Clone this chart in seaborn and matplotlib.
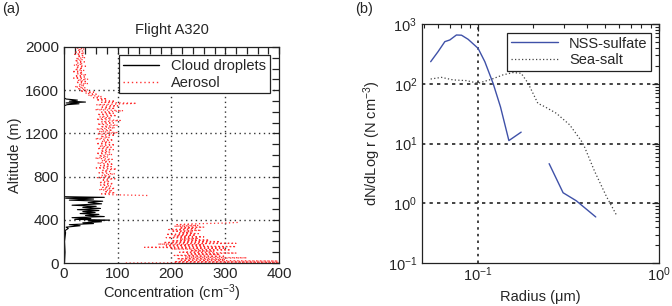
import numpy as np
import pandas as pd
import matplotlib
matplotlib.use("Agg")
import matplotlib.pyplot as plt
import seaborn as sns
from matplotlib.lines import Line2D
from matplotlib.ticker import MultipleLocator, LogLocator, NullFormatter

# ---------------- data: panel (a) ----------------
cloud_alt = [0, 100, 200, 280, 300, 320, 332, 345, 355, 365, 372, 382, 390, 397, 404,
             412, 420, 430, 440, 450, 458, 468, 476, 486, 494, 505, 515, 525, 535, 548,
             560, 572, 582, 592, 600, 608, 614, 700, 1000, 1300, 1455, 1466, 1474,
             1482, 1490, 1498, 1508, 1518, 1530, 1800, 2000]
cloud_conc = [1, 2, 1, 3, 2, 8, 4, 30, 10, 55, 35, 70, 45, 85, 20,
              50, 15, 75, 40, 65, 30, 58, 35, 65, 25, 68, 35, 60, 15, 70,
              45, 72, 10, 55, 3, 75, 0, 0, 0, 0, 0, 6, 28, 4, 40, 10, 25, 4, 0, 0, 0]

aer_low_alt = [0, 5, 12, 18, 25, 32, 40, 48, 55, 62, 70, 78, 85, 92, 100, 108, 115, 122,
               130, 138, 145, 152, 160, 168, 175, 182, 190, 198, 205, 212, 220, 228, 235,
               242, 250, 258, 265, 272, 280, 288, 295, 302, 310, 318, 325, 332, 340, 348,
               355, 362, 370, 376]
aer_low_conc = [115, 400, 205, 398, 215, 300, 210, 340, 225, 300, 205, 290, 230, 320, 215,
                280, 235, 310, 200, 300, 150, 320, 190, 260, 175, 320, 185, 290, 200, 270,
                215, 250, 190, 260, 205, 245, 190, 250, 215, 240, 200, 255, 195, 245, 215,
                260, 205, 250, 210, 235, 300, 325]

aer_mid_alt = [625, 632, 640, 650, 660, 670, 680, 690, 700, 712, 722, 735, 745, 757, 768,
               780, 790, 802, 812, 825, 835, 847, 858, 870, 880, 892, 902, 915, 925, 937,
               948, 960, 970, 982, 992, 1005, 1015, 1027, 1037, 1050, 1060, 1072, 1082,
               1095, 1105, 1117, 1127, 1140, 1150, 1162, 1172, 1185, 1195, 1207, 1217, 1230,
               1240, 1252, 1262, 1275, 1285, 1297, 1307, 1320, 1330, 1342, 1352, 1365, 1375,
               1387, 1397, 1410, 1420, 1432, 1442, 1455, 1465, 1478, 1488, 1498, 1510, 1520,
               1530, 1542, 1552, 1563, 1572, 1582, 1592, 1602, 1612, 1622, 1632, 1642, 1652,
               1662, 1672, 1682, 1692, 1702, 1712, 1722, 1732, 1742, 1752, 1762, 1772, 1782,
               1792, 1802, 1812, 1822, 1832, 1842, 1852, 1862, 1872, 1882, 1892, 1902, 1912,
               1922, 1932, 1942, 1952, 1962, 1972, 1982, 1992, 2000]
aer_mid_conc = [155, 90, 70, 95, 75, 90, 65, 95, 72, 88, 68, 92, 65, 85, 70,
                95, 62, 88, 70, 95, 65, 85, 72, 98, 60, 88, 68, 92, 62, 85,
                70, 90, 58, 82, 65, 90, 60, 85, 68, 92, 62, 88, 66,
                95, 60, 85, 70, 92, 58, 85, 68, 95, 62, 100, 65, 90,
                60, 95, 68, 100, 62, 92, 70, 105, 60, 88, 66, 98, 62,
                92, 70, 110, 58, 95, 68, 100, 60, 135, 70, 95, 60, 80,
                55, 70, 45, 60, 40, 55, 30, 45, 25, 40, 20, 38, 28,
                45, 22, 40, 25, 45, 18, 38, 20, 42, 25, 35, 15, 38,
                20, 35, 22, 40, 18, 35, 25, 38, 20, 35, 22, 40, 25,
                35, 20, 38, 22, 35, 25, 38, 20, 30]

# ---------------- data: panel (b) ----------------
nss_r1 = [0.0547, 0.0601, 0.0655, 0.0698, 0.0759, 0.081, 0.0881, 0.100, 0.109, 0.121,
          0.133, 0.148, 0.173]
nss_n1 = [234, 345, 507, 541, 655, 650, 555, 392, 234, 102, 41, 11.2, 15.5]
nss_r2 = [0.247, 0.295, 0.349, 0.447]
nss_n2 = [4.6, 1.5, 1.1, 0.59]

salt_r = [0.0547, 0.0627, 0.0728, 0.0863, 0.100, 0.1186, 0.1375, 0.156, 0.173, 0.189,
          0.214, 0.233, 0.271, 0.321, 0.380, 0.441, 0.512, 0.581]
salt_n = [120, 128, 116, 113, 102, 119, 141, 154, 150, 102, 47, 41.5, 32, 20.5, 10.1,
          3.4, 1.3, 0.64]

# ---------------- style ----------------
sns.set_style("white")
plt.rcParams["font.family"] = ["Liberation Sans", "DejaVu Sans"]
plt.rcParams["mathtext.default"] = "regular"
plt.rcParams["font.size"] = 10.5
plt.rcParams["axes.linewidth"] = 0.9
plt.rcParams["axes.edgecolor"] = "#222222"

fig = plt.figure(figsize=(6.72, 3.06), dpi=100)
axa = fig.add_axes([0.0952, 0.1405, 0.32, 0.706])
axb = fig.add_axes([0.628, 0.1405, 0.3527, 0.781])

RED = "#ff3030"
BLUE = "#3f51a8"
AER_LS = (0, (1, 2.0))

# panel (a)
cloud_df = pd.DataFrame({"conc": cloud_conc, "alt": cloud_alt})
sns.lineplot(data=cloud_df, x="conc", y="alt", sort=False, estimator=None,
             color="black", lw=0.8, ax=axa)
aer_df = pd.concat([
    pd.DataFrame({"conc": aer_low_conc, "alt": aer_low_alt, "seg": 0}),
    pd.DataFrame({"conc": aer_mid_conc, "alt": aer_mid_alt, "seg": 1}),
])
sns.lineplot(data=aer_df, x="conc", y="alt", units="seg", sort=False, estimator=None,
             color=RED, lw=0.9, ax=axa, linestyle=AER_LS)

axa.set_xlim(0, 400)
axa.set_ylim(0, 2000)
axa.xaxis.set_major_locator(MultipleLocator(100))
axa.xaxis.set_minor_locator(MultipleLocator(20))
axa.yaxis.set_major_locator(MultipleLocator(400))
axa.yaxis.set_minor_locator(MultipleLocator(100))
for v in [100, 200, 300]:
    axa.axvline(v, color="#333333", lw=1.0, ls=(0, (1, 2.5)), zorder=0)
for v in [400, 800, 1200, 1600]:
    axa.axhline(v, color="#333333", lw=1.0, ls=(0, (1, 2.5)), zorder=0)
axa.tick_params(which="both", direction="in", top=True, right=True, labelsize=11,
                color="#222222")
axa.tick_params(axis="x", which="both", pad=3)
axa.tick_params(which="major", length=5, width=0.9)
axa.tick_params(which="minor", length=5, width=0.9)
axa.set_xlabel("Concentration (cm$^{-3}$)", fontsize=10.5, labelpad=1)
axa.set_ylabel("Altitude (m)", fontsize=10.5, labelpad=2)
axa.set_title("Flight A320", fontsize=10.5, pad=9)
ha = [Line2D([], [], color="black", lw=1.0),
      Line2D([], [], color=RED, lw=1.0, ls=AER_LS)]
leg = axa.legend(ha, ["Cloud droplets", "Aerosol"], loc="upper right",
                 bbox_to_anchor=(0.97, 0.975), frameon=True, fancybox=False,
                 edgecolor="#222222", framealpha=1, fontsize=10.5, handlelength=2.5,
                 borderpad=0.25, labelspacing=0.2, handletextpad=0.8, borderaxespad=0.2)
leg.get_frame().set_linewidth(0.9)

# panel (b)
nss_df = pd.concat([
    pd.DataFrame({"r": nss_r1, "n": nss_n1, "seg": 0}),
    pd.DataFrame({"r": nss_r2, "n": nss_n2, "seg": 1}),
])
sns.lineplot(data=nss_df, x="r", y="n", units="seg", estimator=None, sort=False,
             color=BLUE, lw=1.0, ax=axb)
salt_df = pd.DataFrame({"r": salt_r, "n": salt_n})
sns.lineplot(data=salt_df, x="r", y="n", estimator=None, sort=False,
             color="#444444", lw=0.9, ls=(0, (1, 1.8)), ax=axb)
axb.set_xscale("log")
axb.set_yscale("log")
axb.set_xlim(0.049, 1.0)
axb.set_ylim(0.1, 1000)
axb.xaxis.set_major_locator(LogLocator(base=10, numticks=10))
axb.xaxis.set_minor_locator(LogLocator(base=10, subs=np.arange(2, 10), numticks=10))
axb.xaxis.set_minor_formatter(NullFormatter())
axb.yaxis.set_major_locator(LogLocator(base=10, numticks=10))
axb.yaxis.set_minor_locator(LogLocator(base=10, subs=np.arange(2, 10), numticks=10))
axb.yaxis.set_minor_formatter(NullFormatter())
for v in [1, 10, 100]:
    axb.axhline(v, color="#222222", lw=1.2, ls=(0, (2, 2.5)), zorder=0)
axb.axvline(0.1, color="#222222", lw=1.2, ls=(0, (1.5, 2.5)), zorder=0)
axb.tick_params(which="both", direction="in", top=True, right=True, labelsize=10.5,
                color="#222222")
axb.tick_params(axis="x", which="both", pad=2)
axb.tick_params(which="major", length=5, width=0.9)
axb.tick_params(which="minor", length=3, width=0.8)
axb.set_xlabel("Radius (\u03bcm)", fontsize=10.5, labelpad=4)
axb.set_ylabel("dN/dLog r (N cm$^{-3}$)", fontsize=10.5, labelpad=3)
hb = [Line2D([], [], color=BLUE, lw=1.0),
      Line2D([], [], color="#444444", lw=0.9, ls=(0, (1, 1.8)))]
legb = axb.legend(hb, ["NSS-sulfate", "Sea-salt"], loc="upper right",
                  bbox_to_anchor=(0.98, 0.975), frameon=True, fancybox=False,
                  edgecolor="#222222", framealpha=1, fontsize=10.5, handlelength=3.2,
                  borderpad=0.25, labelspacing=0.2, handletextpad=0.8, borderaxespad=0.2)
legb.get_frame().set_linewidth(0.9)

fig.text(0.003, 0.972, "(a)", fontsize=10.5, ha="left", va="center")
fig.text(0.529, 0.972, "(b)", fontsize=10.5, ha="left", va="center")

fig.savefig("out.png", dpi=100)
